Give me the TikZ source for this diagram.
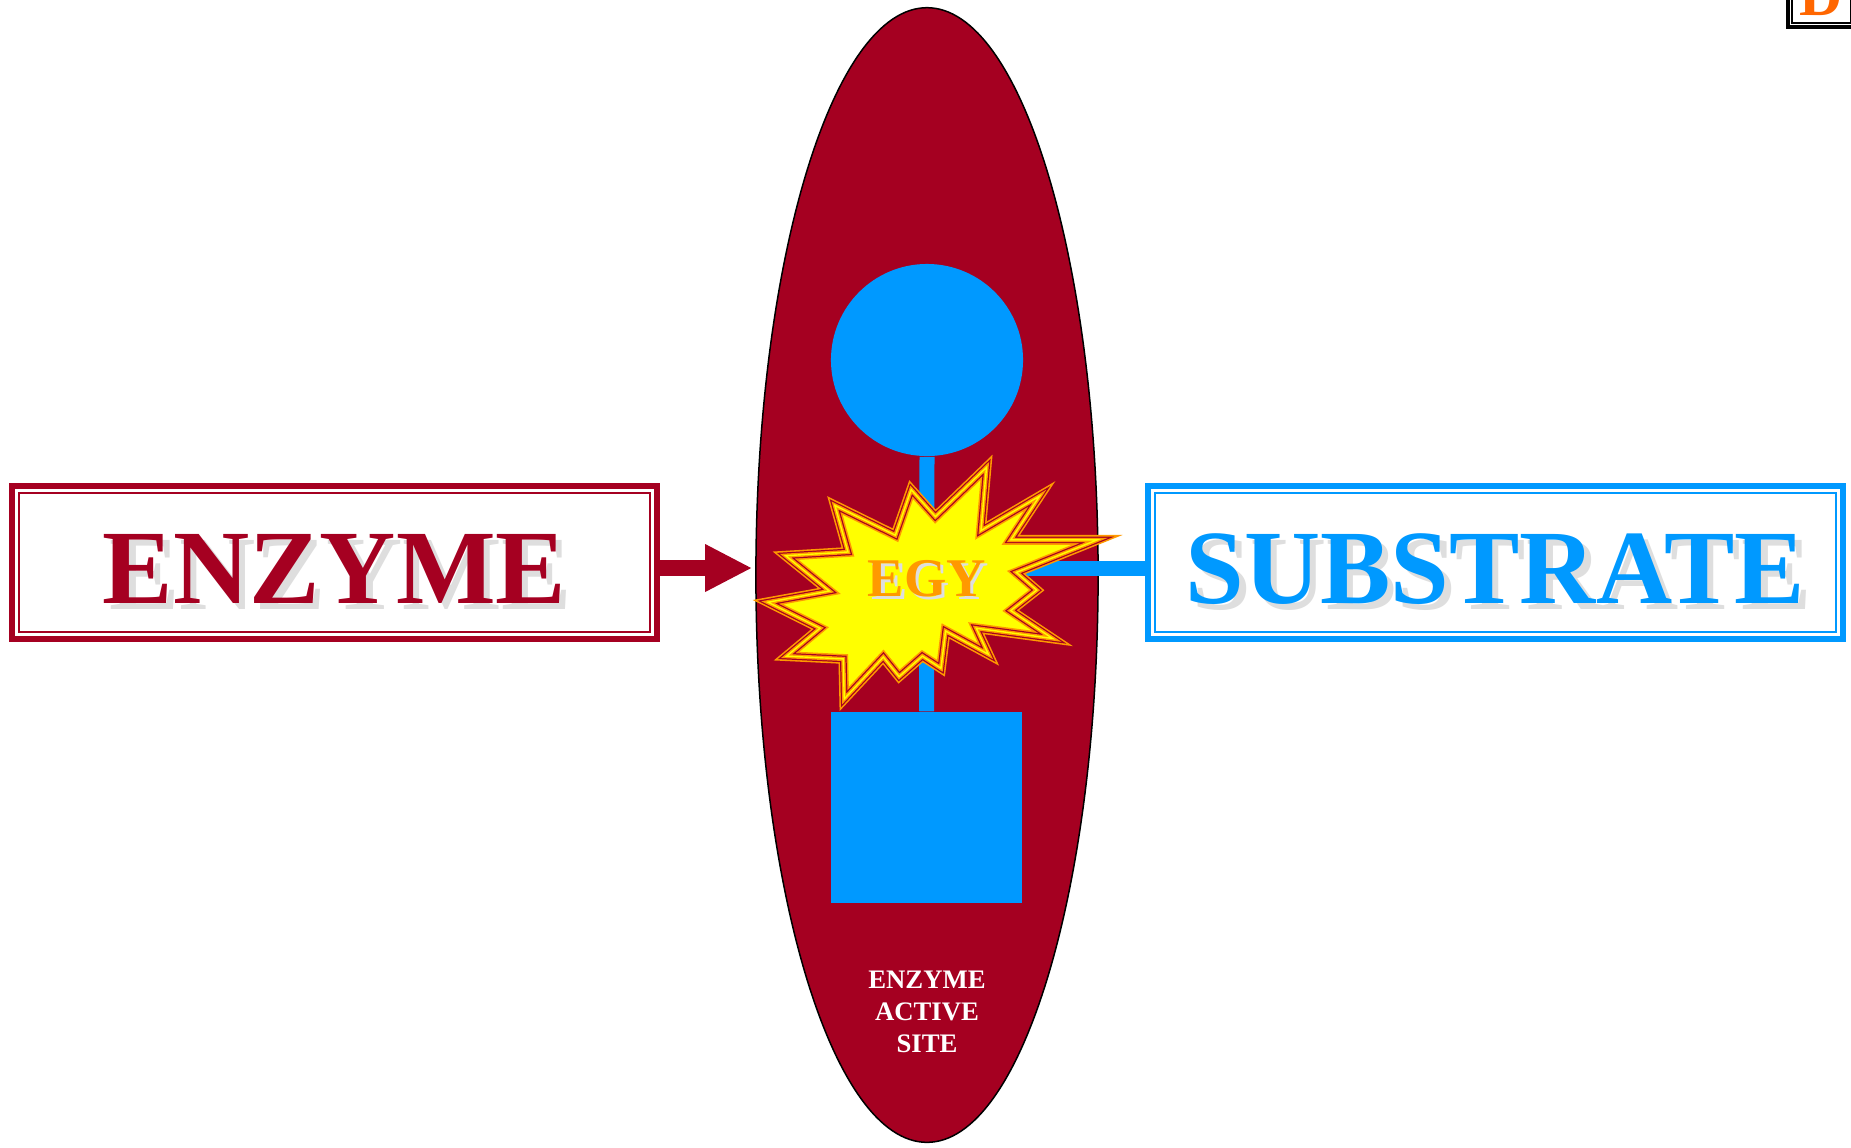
\documentclass[tikz,border=0pt]{standalone}
\usepackage{fontspec}
\setmainfont{Liberation Serif}
\usetikzlibrary{shapes.geometric, arrows.meta, positioning, calc}
\definecolor{enzred}{HTML}{A50021}
\definecolor{subblue}{HTML}{0099FF}
\definecolor{burstyellow}{HTML}{FFFF00}
\definecolor{burstorange}{HTML}{FF9900}
\definecolor{paneltext}{HTML}{FF6600}
\newcommand{\shadowed}[1]{\makebox[0pt][l]{\hspace{0.06em}\raisebox{-0.06em}{\textcolor{black!13}{#1}}}#1}
\tikzset{
  % Name boxes
  namebox/.style={
    rectangle, draw=#1, line width=0.065cm, fill=white, text=#1,
    font=\fontsize{30}{36}\selectfont\bfseries, inner sep=0pt,
    minimum height=1.525cm, align=center, text height=0.82cm, text depth=0pt,
  },
  namebox/.default={enzred},
  innerframe/.style={draw=#1, line width=0.025cm},
  % Substrate parts
  subpart/.style={fill=subblue, draw=none, inner sep=0pt},
  link/.style={draw=subblue, line width=0.15cm},
  % Block arrow
  blockarrow/.style={draw=#1, line width=0.16cm,
    -{Triangle[length=0.46cm, width=0.48cm, line width=0pt]}},
  blockarrow/.default={enzred},
  % Labels
  sitelabel/.style={text=white, font=\fontsize{7.6}{9.1}\selectfont\bfseries,
    align=center, inner sep=0pt},
  burstlabel/.style={text=burstorange, font=\fontsize{15.5}{18}\selectfont\bfseries,
    inner sep=0pt},
  panel/.style={rectangle, draw=black, line width=0.043cm, fill=white,
    minimum width=0.67cm, minimum height=0.62cm, inner sep=0pt,
    text=paneltext, font=\fontsize{17}{20}\selectfont\bfseries},
}
\begin{document}
\begin{tikzpicture}[x=0.01cm, y=-0.01cm]
  \useasboundingbox (0,0) rectangle (1851,1147);
  \clip (0,0) rectangle (1851,1147);

  % Enzyme body
  \node[ellipse, draw=black, line width=0.015cm, fill=enzred, inner sep=0pt,
        minimum width=3.42cm, minimum height=11.34cm] (site) at (927,575) {};
  \node[sitelabel] (sitetext) at (927,1012) {ENZYME\\ACTIVE\\SITE};

  % Substrate parts
  \coordinate (hub) at (927,568);
  \node[subpart, circle, minimum size=1.92cm] (knob) at (927,360) {};
  \node[subpart, rectangle, minimum size=1.91cm] (plate) at (926.5,807.5) {};
  \draw[link] (knob.south) -- (plate.north);

  % Boxes
  \node[namebox=enzred, minimum width=6.445cm] (enzyme) at (334.5,562.5) {\shadowed{ENZYME}};
  \node[namebox=subblue, minimum width=6.945cm] (substrate) at (1495.5,562.5) {\shadowed{SUBSTRATE}};
  \draw[innerframe=enzred] ([shift={(10,10)}]enzyme.north west) rectangle ([shift={(-10,-10)}]enzyme.south east);
  \draw[innerframe=subblue] ([shift={(10,10)}]substrate.north west) rectangle ([shift={(-10,-10)}]substrate.south east);
  \draw[link] (hub) -- (hub -| substrate.west);

  % Burst
  \begin{scope}[shift={(927,578)}, scale=0.93]
    \path[save path=\burstshape] (64,-119) -- (58,-51) -- (121,-88) -- (90,-41) -- (183,-41)
      -- (96,-6) -- (118,13) -- (90,35) -- (135,65) -- (53,54) -- (66,82) -- (20,57)
      -- (15,97) -- (-5,84) -- (-30,106) -- (-47,85) -- (-89,130) -- (-90,87)
      -- (-151,84) -- (-115,54) -- (-171,26) -- (-105,14) -- (-152,-24) -- (-85,-28)
      -- (-99,-78) -- (-34,-46) -- (-17,-95) -- (9,-66) -- cycle;
    \fill[burstyellow, use path=\burstshape];
    \foreach \w/\c in {2.8pt/burstorange, 1.9pt/enzred, 1.2pt/burstorange, 0.4pt/burstyellow}
      \draw[use path=\burstshape, draw=\c, line width=\w, miter limit=6];
  \end{scope}
  \node[burstlabel] (burst) at (927,580) {\shadowed{EGY}};

  % Arrow
  \draw[blockarrow=enzred, shorten >=0.04cm] (enzyme.east |- hub) -- (site.west |- hub);

  % Panel letter
  \node[panel] (panel) at (1821.5,-4) {D};
  \draw[innerframe=black, line width=0.02cm] ([shift={(6,6)}]panel.north west) rectangle ([shift={(-6,-6)}]panel.south east);
\end{tikzpicture}
\end{document}
